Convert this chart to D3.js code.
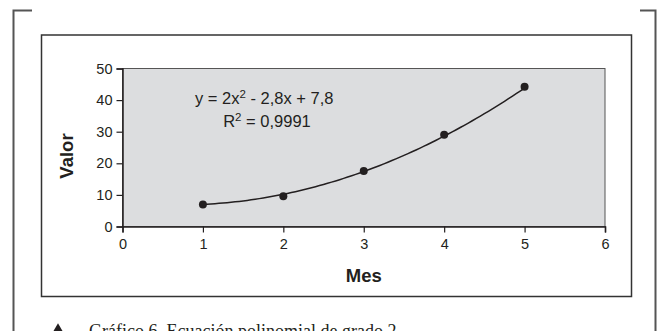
<!DOCTYPE html>
<html lang="es">
<head>
    <meta charset="UTF-8">
    <title>Gráfico 6</title>
    <script src="https://cdn.jsdelivr.net/npm/d3@7"></script>
    <style>
        body { margin: 0; background: white; }
        svg { display: block; }
        text { font-family: "Liberation Sans", Arial, sans-serif; fill: #231f20; }
        .caption { font-family: "Liberation Serif", "Times New Roman", serif; font-size: 18px; }
    </style>
</head>
<body>
    <svg id="chart" width="659" height="331"></svg>
    <script>
        // datos
        const meses = [1, 2, 3, 4, 5];
        const valores = [7.0, 9.6, 17.6, 29.0, 44.2];
        const xTicks = [0, 1, 2, 3, 4, 5, 6];
        const yTicks = [0, 10, 20, 30, 40, 50];
        const coef = [2, -2.8, 7.8]; // a, b, c de la linea de tendencia
        const titulo = "Gráfico 6. Ecuación polinomial de grado 2";

        const svg = d3.select("#chart");
        const ink = "#231f20";

        // corchete exterior
        svg.append("path")
            .attr("d", "M32,10.5 H13.5 V331")
            .attr("fill", "none").attr("stroke", "#555").attr("stroke-width", 2);
        svg.append("path")
            .attr("d", "M640,10.5 H655.5 V331")
            .attr("fill", "none").attr("stroke", "#555").attr("stroke-width", 2);

        // marco del grafico
        svg.append("rect")
            .attr("x", 41.5).attr("y", 35)
            .attr("width", 590).attr("height", 261.5)
            .attr("fill", "white").attr("stroke", "#333").attr("stroke-width", 1.5);

        const plot = { left: 122.5, right: 605, top: 68.5, bottom: 226.5 };

        const x = d3.scaleLinear().domain([0, 6]).range([plot.left, plot.right]);
        const y = d3.scaleLinear().domain([0, 50]).range([plot.bottom, plot.top]);

        svg.append("rect")
            .attr("x", plot.left).attr("y", plot.top)
            .attr("width", plot.right - plot.left).attr("height", plot.bottom - plot.top)
            .attr("fill", "#dcdddf").attr("stroke", "#555").attr("stroke-width", 1);

        const xAxis = svg.append("g")
            .attr("transform", `translate(0,${plot.bottom})`)
            .call(d3.axisBottom(x).tickValues(xTicks).tickFormat(d3.format("d")).tickSize(6).tickPadding(6));
        const yAxis = svg.append("g")
            .attr("transform", `translate(${plot.left},0)`)
            .call(d3.axisLeft(y).tickValues(yTicks).tickFormat(d3.format("d")).tickSize(6).tickPadding(4));

        [xAxis, yAxis].forEach(g => {
            g.select(".domain").attr("stroke", ink).attr("stroke-width", 1.5);
            g.selectAll(".tick line").attr("stroke", ink).attr("stroke-width", 1.2);
            g.selectAll(".tick text")
                .attr("fill", ink)
                .style("font-size", "14.5px")
                .style("font-family", "'Liberation Sans', Arial, sans-serif");
        });

        // linea de tendencia
        const trend = d3.range(1, 5.001, 0.05).map(v => [v, coef[0] * v * v + coef[1] * v + coef[2]]);
        svg.append("path")
            .datum(trend)
            .attr("d", d3.line().x(d => x(d[0])).y(d => y(d[1])))
            .attr("fill", "none").attr("stroke", ink).attr("stroke-width", 1.5);

        svg.selectAll("circle.pt")
            .data(meses)
            .enter()
            .append("circle")
            .attr("class", "pt")
            .attr("cx", d => x(d))
            .attr("cy", (d, i) => y(valores[i]))
            .attr("r", 4)
            .attr("fill", ink);

        // ecuacion
        const eq = svg.append("text")
            .attr("x", 195).attr("y", 104)
            .style("font-size", "16.5px");
        eq.append("tspan").text("y = 2x");
        eq.append("tspan").attr("dy", -6).style("font-size", "11.5px").text("2");
        eq.append("tspan").attr("dy", 6).text(" - 2,8x + 7,8");

        const rt = svg.append("text")
            .attr("x", 267).attr("y", 127)
            .attr("text-anchor", "middle")
            .style("font-size", "16.5px");
        rt.append("tspan").text("R");
        rt.append("tspan").attr("dy", -6).style("font-size", "11.5px").text("2");
        rt.append("tspan").attr("dy", 6).text(" = 0,9991");

        // titulos de ejes
        svg.append("text")
            .attr("x", x(3)).attr("y", 282)
            .attr("text-anchor", "middle")
            .style("font-size", "18.5px").style("font-weight", "bold")
            .text("Mes");
        svg.append("text")
            .attr("transform", "translate(73,156) rotate(-90)")
            .attr("text-anchor", "middle")
            .style("font-size", "18.5px").style("font-weight", "bold")
            .text("Valor");

        // pie (cortado por el borde, como en el original)
        svg.append("path")
            .attr("d", d3.symbol(d3.symbolTriangle, 60)())
            .attr("transform", "translate(58,330)")
            .attr("fill", ink);
        svg.append("text")
            .attr("class", "caption")
            .attr("x", 89).attr("y", 337)
            .text(titulo);
    </script>
</body>
</html>
